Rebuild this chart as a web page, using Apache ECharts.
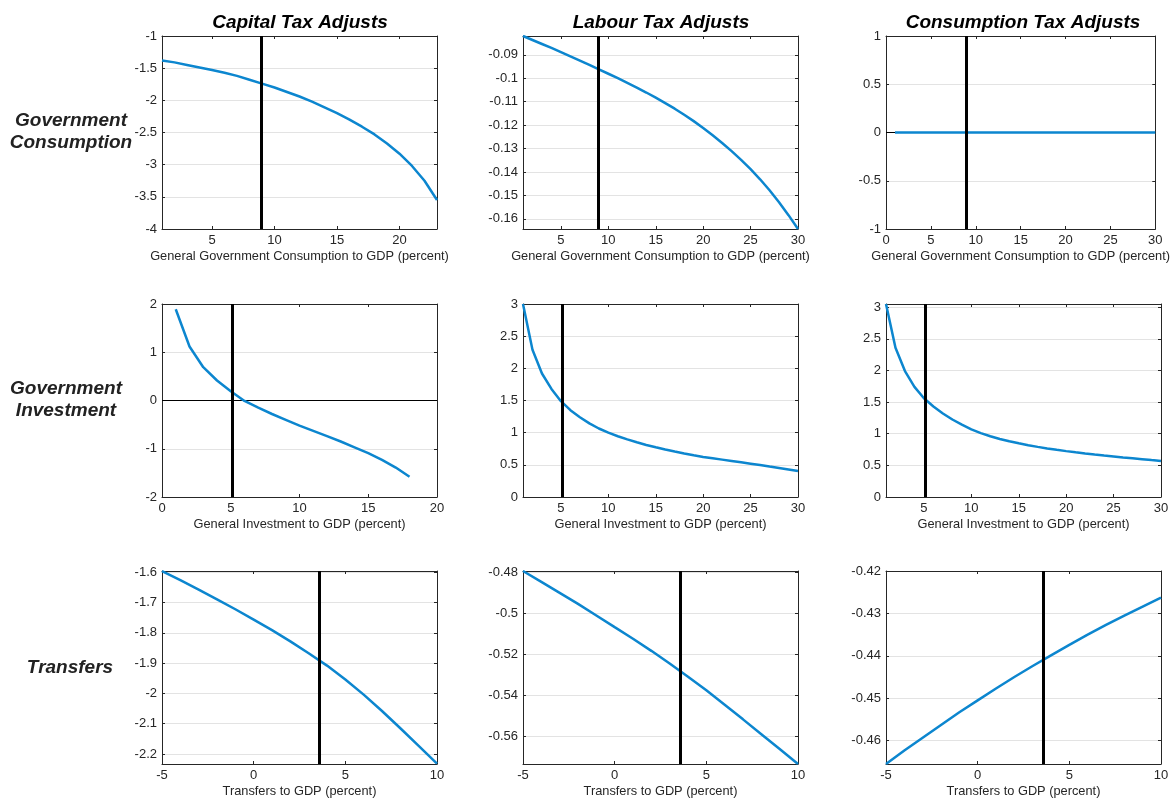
<!DOCTYPE html>
<html><head><meta charset="utf-8">
<script src="https://cdn.jsdelivr.net/npm/echarts@6/dist/echarts.min.js"></script>
<style>html,body{margin:0;padding:0;background:#fff}#c{width:1172px;height:800px}</style>
</head><body><div id="c"></div>
<script>
// ---------- text ----------
const colTitles = ['Capital Tax Adjusts', 'Labour Tax Adjusts', 'Consumption Tax Adjusts'];
const rowTitles = [['Government', 'Consumption'], ['Government', 'Investment'], ['Transfers']];
const xAxisNames = ['General Government Consumption to GDP (percent)', 'General Investment to GDP (percent)', 'Transfers to GDP (percent)'];
// vertical reference line (current ratio) for each row
const refLines = [8.9, 5.1, 3.6];

// ---------- data: row 1, Government Consumption ----------
const gcCapitalX = [1,2,3,4,5,6,7,8,9,10,11,12,13,14,15,16,17,18,19,20,21,22,23];
const gcCapitalY = [-1.38,-1.41,-1.45,-1.49,-1.53,-1.57,-1.62,-1.68,-1.74,-1.80,-1.87,-1.94,-2.02,-2.11,-2.20,-2.30,-2.41,-2.53,-2.67,-2.83,-3.02,-3.25,-3.55];
const gcLabourX = [1,2,3,4,5,6,7,8,9,10,11,12,13,14,15,16,17,18,19,20,21,22,23,24,25,26,27,28,29,30];
const gcLabourY = [-0.0820,-0.0837,-0.0854,-0.0871,-0.0889,-0.0907,-0.0925,-0.0943,-0.0962,-0.0981,-0.1000,-0.1020,-0.1040,-0.1061,-0.1083,-0.1106,-0.1130,-0.1156,-0.1183,-0.1212,-0.1243,-0.1276,-0.1311,-0.1348,-0.1388,-0.1431,-0.1478,-0.1529,-0.1584,-0.1643];
const gcConsX = [1,2,3,4,5,6,7,8,9,10,11,12,13,14,15,16,17,18,19,20,21,22,23,24,25,26,27,28,29,30];
const gcConsY = [0,0,0,0,0,0,0,0,0,0,0,0,0,0,0,0,0,0,0,0,0,0,0,0,0,0,0,0,0,0];

// ---------- data: row 2, Government Investment ----------
const giCapitalX = [1,2,3,4,5,6,7,8,9,10,11,12,13,14,15,16,17,18];
const giCapitalY = [1.89,1.12,0.69,0.415,0.19,-0.01,-0.15,-0.28,-0.40,-0.52,-0.63,-0.74,-0.85,-0.97,-1.09,-1.23,-1.39,-1.58];
const giLabourX = [1,2,3,4,5,6,7,8,9,10,11,12,13,14,15,16,17,18,19,20,21,22,23,24,25,26,27,28,29,30];
const giLabourY = [3.0,2.29,1.92,1.68,1.49,1.35,1.24,1.145,1.065,1.00,0.945,0.895,0.850,0.809,0.772,0.738,0.707,0.677,0.649,0.623,0.602,0.581,0.560,0.539,0.518,0.496,0.473,0.451,0.428,0.405];
const giConsX = [1,2,3,4,5,6,7,8,9,10,11,12,13,14,15,16,17,18,19,20,21,22,23,24,25,26,27,28,29,30];
const giConsY = [3.05,2.36,1.99,1.74,1.56,1.43,1.32,1.225,1.143,1.07,1.01,0.96,0.917,0.88,0.848,0.819,0.792,0.767,0.745,0.725,0.706,0.688,0.671,0.655,0.640,0.625,0.611,0.597,0.583,0.57];

// ---------- data: row 3, Transfers ----------
const trCapitalX = [-5,-4,-3,-2,-1,0,1,2,3,4,5,6,7,8,9,10];
const trCapitalY = [-1.596,-1.626,-1.657,-1.689,-1.722,-1.756,-1.791,-1.828,-1.867,-1.908,-1.954,-2.004,-2.058,-2.115,-2.173,-2.232];
const trLabourX = [-5,-4,-3,-2,-1,0,1,2,3,4,5,6,7,8,9,10];
const trLabourY = [-0.4795,-0.4848,-0.4901,-0.4955,-0.5011,-0.5068,-0.5124,-0.5183,-0.5245,-0.5309,-0.5375,-0.5445,-0.5516,-0.5588,-0.5660,-0.5733];
const trConsX = [-5,-4,-3,-2,-1,0,1,2,3,4,5,6,7,8,9,10];
const trConsY = [-0.4655,-0.4623,-0.4593,-0.4563,-0.4533,-0.4505,-0.4477,-0.4450,-0.4424,-0.4399,-0.4374,-0.4350,-0.4327,-0.4305,-0.4284,-0.4263];

// ---------- axis limits and tick steps per panel (row-major) ----------
const xLimits = [[1,23],[1,30],[0,30],[0,20],[1,30],[1,30],[-5,10],[-5,10],[-5,10]];
const xSteps  = [5,5,5,5,5,5,5,5,5];
const yLimits = [[-4,-1],[-0.1643,-0.082],[-1,1],[-2,2],[0,3],[0,3.05],[-2.233,-1.5956],[-0.5733,-0.4795],[-0.4655,-0.42]];
const ySteps  = [0.5,0.01,0.5,1,0.5,0.5,0.1,0.02,0.01];

const panelX = [gcCapitalX, gcLabourX, gcConsX, giCapitalX, giLabourX, giConsX, trCapitalX, trLabourX, trConsX];
const panelY = [gcCapitalY, gcLabourY, gcConsY, giCapitalY, giLabourY, giConsY, trCapitalY, trLabourY, trConsY];

// ---------- layout ----------
const colLeft = [162, 523, 886];
const rowTop = [36, 304, 571];
const plotW = 275, plotH = 193;
const FONT = '"Liberation Sans", Arial, Helvetica, sans-serif';
const AX = '#262626';
const BLUE = '#0c86cf';

function fmt(step) {
  return function (v) {
    const r = v / step;
    if (Math.abs(r - Math.round(r)) > 1e-6) return '';
    return String(parseFloat((Math.round(r) * step).toFixed(6)));
  };
}

const grid = [], xAxis = [], yAxis = [], series = [], graphic = [];
for (let i = 0; i < 9; i++) {
  const r = Math.floor(i / 3), c = i % 3;
  grid.push({left: colLeft[c], top: rowTop[r], width: plotW, height: plotH, containLabel: false});
  const common = (lim, step) => ({type: 'value', min: lim[0], max: lim[1], minInterval: step, maxInterval: step, gridIndex: i});
  const lineS = {show: true, onZero: false, lineStyle: {color: AX, width: 1}};
  const tickS = {show: true, inside: true, length: 3, lineStyle: {color: AX, width: 1}};
  xAxis.push(Object.assign(common(xLimits[i], xSteps[i]), {
    position: 'bottom', axisLine: lineS, axisTick: tickS, splitLine: {show: false},
    axisLabel: {show: true, color: AX, fontSize: 13, fontFamily: FONT, margin: 5, formatter: fmt(xSteps[i]), hideOverlap: false},
    name: xAxisNames[r], nameLocation: 'middle', nameGap: 21,
    nameTextStyle: {color: AX, fontSize: 12.8, fontFamily: FONT}
  }));
  xAxis.push(Object.assign(common(xLimits[i], xSteps[i]), {
    position: 'top', axisLine: lineS, axisTick: tickS, splitLine: {show: false}, axisLabel: {show: false}
  }));
  yAxis.push(Object.assign(common(yLimits[i], ySteps[i]), {
    position: 'left', axisLine: lineS, axisTick: tickS,
    splitLine: {show: true, lineStyle: {color: '#e3e3e3', width: 1}},
    axisLabel: {show: true, color: AX, fontSize: 13, fontFamily: FONT, margin: 5, formatter: fmt(ySteps[i]), hideOverlap: false}
  }));
  yAxis.push(Object.assign(common(yLimits[i], ySteps[i]), {
    position: 'right', axisLine: lineS, axisTick: tickS, splitLine: {show: false}, axisLabel: {show: false}
  }));
  const xs = panelX[i], ys = panelY[i];
  series.push({
    type: 'line', xAxisIndex: 2 * i, yAxisIndex: 2 * i, z: 3,
    data: xs.map((x, k) => [x, ys[k]]),
    symbol: 'none', showSymbol: false, smooth: false, animation: false, silent: true,
    lineStyle: {color: BLUE, width: 2.5}, itemStyle: {color: BLUE},
    markLine: {
      silent: true, symbol: 'none', animation: false, z: 5,
      label: {show: false}, lineStyle: {color: '#000', width: 3, type: 'solid'},
      data: [{xAxis: refLines[r]}]
    }
  });
  if (yLimits[i][0] < 0 && yLimits[i][1] > 0) {
    series.push({
      type: 'line', xAxisIndex: 2 * i, yAxisIndex: 2 * i, z: 1, data: [],
      symbol: 'none', animation: false, silent: true,
      markLine: {
        silent: true, symbol: 'none', animation: false, z: 1,
        label: {show: false}, lineStyle: {color: '#000', width: 1, type: 'solid'},
        data: [{yAxis: 0}]
      }
    });
  }
}

// column titles
const titleCenters = [300, 661, 1023];
colTitles.forEach((t, c) => graphic.push({
  type: 'text', x: titleCenters[c], y: 23,
  style: {text: t, fill: '#000', fontSize: 19, fontWeight: 'bold', fontStyle: 'italic', fontFamily: FONT, align: 'center', verticalAlign: 'middle'}
}));
// row titles
const rowCenters = [[71, [121, 143]], [66, [389, 411]], [70, [668]]];
rowTitles.forEach((lines, r) => lines.forEach((t, k) => graphic.push({
  type: 'text', x: rowCenters[r][0], y: rowCenters[r][1][k],
  style: {text: t, fill: '#222', fontSize: 19, fontWeight: 'bold', fontStyle: 'italic', fontFamily: FONT, align: 'center', verticalAlign: 'middle'}
})));

const chart = echarts.init(document.getElementById('c'), null, {renderer: 'canvas'});
chart.setOption({backgroundColor: '#fff', animation: false, grid, xAxis, yAxis, series, graphic});
</script>
</body></html>
